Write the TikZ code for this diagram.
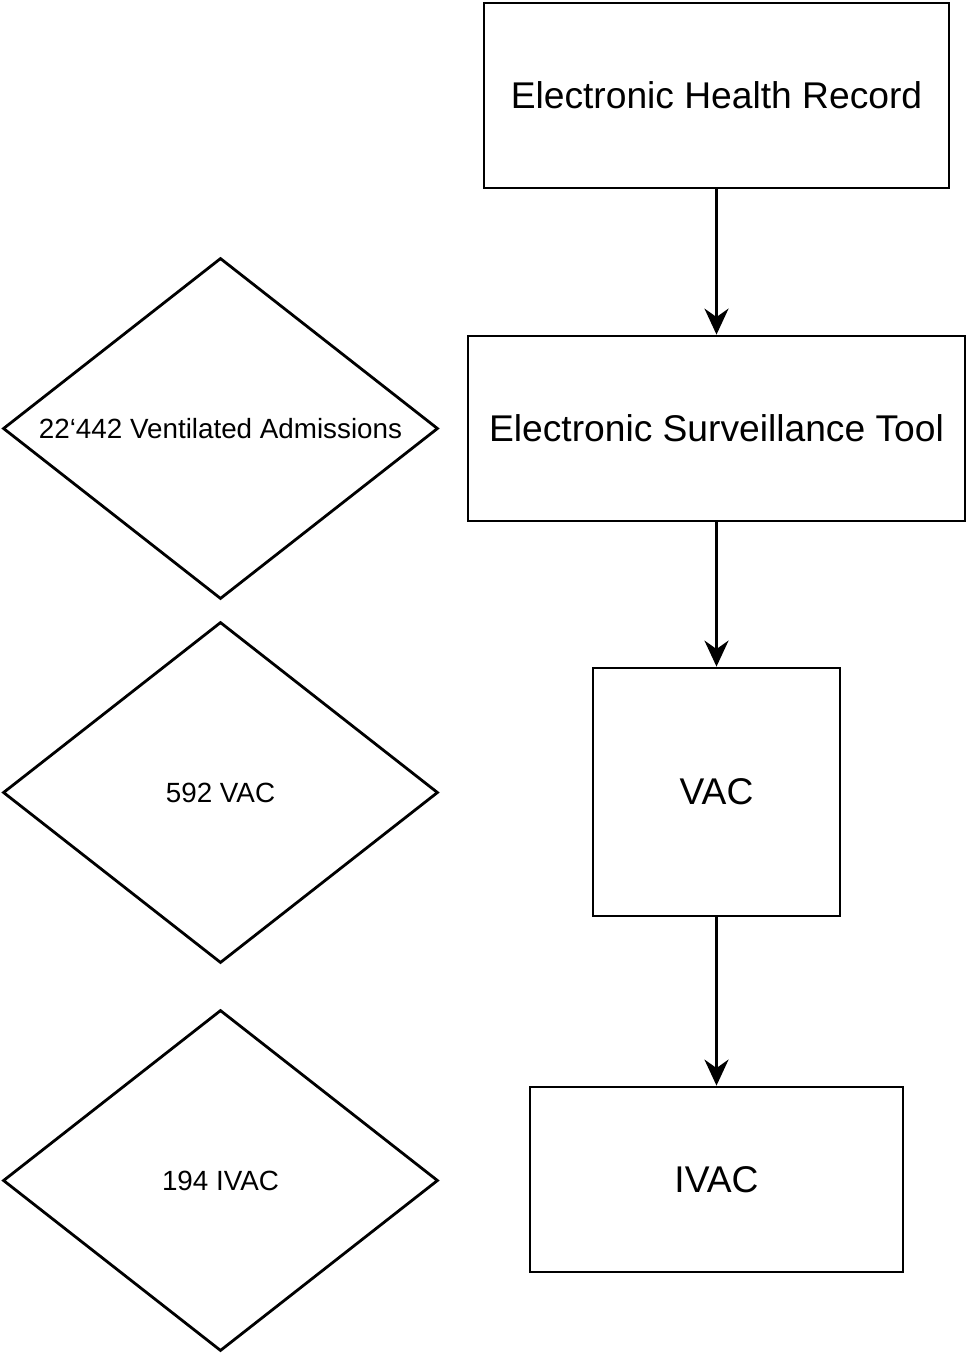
\documentclass[tikz,border=0pt]{standalone}
\usepackage{fontspec}
\setmainfont{Liberation Sans}
\usetikzlibrary{shapes.geometric,arrows.meta}
\begin{document}
\begin{tikzpicture}[x=0.5pt,y=-0.5pt,line width=1.4pt,
  box/.style={draw,rectangle,inner sep=0pt,font=\fontsize{18.6}{20}\selectfont},
  dia/.style={draw,diamond,inner sep=0pt,minimum width=217.5pt,minimum height=170.5pt,aspect=1.28,font=\fontsize{13.9}{15}\selectfont},
  arr/.style={-{Stealth[length=13pt,width=12pt]}}]
\useasboundingbox (0,0) rectangle (968,1355);
\node[box,minimum width=232.5pt,minimum height=92.5pt] (ehr) at (716.5,95.5) {Electronic Health Record};
\node[box,minimum width=248.5pt,minimum height=92.5pt] (est) at (716.5,428.5) {Electronic Surveillance Tool};
\node[box,minimum width=123.5pt,minimum height=124pt] (vac) at (716.5,792) {VAC};
\node[box,minimum width=186.5pt,minimum height=92.5pt] (ivac) at (716.5,1179.5) {IVAC};
\node[dia] (d1) at (220.5,428.5) {22‘442 Ventilated Admissions};
\node[dia] (d2) at (220.5,792.5) {592 VAC};
\node[dia] (d3) at (220.5,1180.5) {194 IVAC};
\draw[arr] (ehr) -- (est);
\draw[arr] (est) -- (vac);
\draw[arr] (vac.south) -- (vac.south |- ivac.north);
\end{tikzpicture}
\end{document}
